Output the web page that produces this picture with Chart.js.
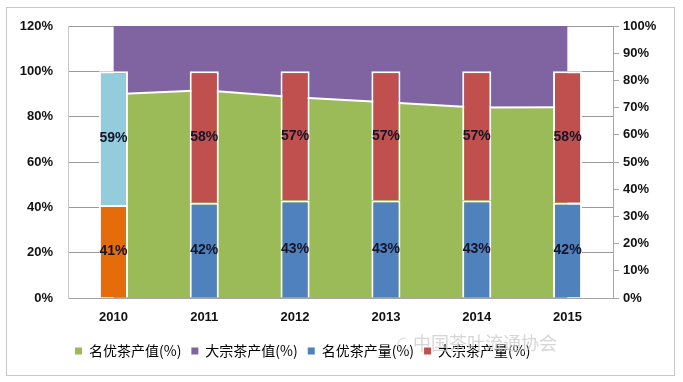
<!DOCTYPE html>
<html>
<head>
<meta charset="utf-8">
<script src="https://cdn.jsdelivr.net/npm/chart.js@4/dist/chart.umd.min.js"></script>
<style>
html,body{margin:0;padding:0;background:#fff;}
#wrap{width:683px;height:382px;position:relative;}
</style>
</head>
<body>
<div id="wrap"><canvas id="c" width="683" height="382"></canvas></div>
<script>
const years = ['2010','2011','2012','2013','2014','2015'];
const famousValue = [74.9, 76.4, 73.8, 72.0, 70.0, 70.1];      // 名优茶产值(%) right axis
const bulkValue = [25.1, 23.6, 26.2, 28.0, 30.0, 29.9];        // 大宗茶产值(%) right axis
const famousOutput = [41, 42, 43, 43, 43, 42];                // 名优茶产量(%)
const bulkOutput = [59, 58, 57, 57, 57, 58];                  // 大宗茶产量(%)
const leftTicks = [0, 20, 40, 60, 80, 100, 120];
const rightTicks = [0, 10, 20, 30, 40, 50, 60, 70, 80, 90, 100];
const seriesNames = ['名优茶产值(%)', '大宗茶产值(%)', '名优茶产量(%)', '大宗茶产量(%)'];

const C = {green:'#9BBB59', purple:'#8064A2', blue:'#4F81BD', red:'#C0504D', orange:'#E46C0A', lightBlue:'#93CDDD'};
const famousBarColors = famousOutput.map((v,i)=> i===0 ? C.orange : C.blue);
const bulkBarColors = bulkOutput.map((v,i)=> i===0 ? C.lightBlue : C.red);
const legendColors = [C.green, C.purple, C.blue, C.red];

const labelPlugin = {
  id:'barLabels',
  afterDatasetsDraw(chart){
    const ctx = chart.ctx;
    ctx.save();
    ctx.font = 'bold 14px "Liberation Sans", Arial, sans-serif';
    ctx.fillStyle = '#141428';
    ctx.textAlign = 'center';
    ctx.textBaseline = 'middle';
    [2,3].forEach(di=>{
      const meta = chart.getDatasetMeta(di);
      const data = chart.data.datasets[di].data;
      meta.data.forEach((el,i)=>{
        ctx.fillText(data[i] + '%', el.x, (el.y + el.base)/2);
      });
    });
    ctx.restore();
  }
};

const framePlugin = {
  id:'frame',
  afterLayout(chart){
    chart.legend.left += 55;
  },
  afterDraw(chart){
    const ctx = chart.ctx;
    ctx.save();
    ctx.strokeStyle = '#c8c8c8';
    ctx.lineWidth = 1;
    ctx.strokeRect(6.5, 7.5, 668, 368);
    ctx.font = '18px "Noto Sans CJK SC", sans-serif';
    ctx.fillStyle = 'rgba(200,200,200,0.75)';
    ctx.textBaseline = 'middle';
    ctx.fillText('中国茶叶流通协会', 413, 343);
    ctx.strokeStyle = 'rgba(200,200,200,0.75)';
    ctx.beginPath();
    ctx.arc(404, 344, 6, 0.2*Math.PI, 1.6*Math.PI);
    ctx.stroke();
    ctx.restore();
  }
};

new Chart(document.getElementById('c'), {
  data:{
    labels: years,
    datasets:[
      {type:'line', label:seriesNames[0], data:famousValue, yAxisID:'y2', stack:'value',
       backgroundColor:C.green, borderColor:'#ffffff', borderWidth:2, fill:'origin',
       pointRadius:0, tension:0, order:1},
      {type:'line', label:seriesNames[1], data:bulkValue, yAxisID:'y2', stack:'value',
       backgroundColor:C.purple, borderColor:C.purple, borderWidth:0, fill:'-1',
       pointRadius:0, tension:0, order:1},
      {type:'bar', label:seriesNames[2], data:famousOutput, yAxisID:'y', stack:'output',
       backgroundColor:famousBarColors, borderColor:'#ffffff', borderWidth:2, borderSkipped:'start',
       categoryPercentage:1, barPercentage:0.32, order:0},
      {type:'bar', label:seriesNames[3], data:bulkOutput, yAxisID:'y', stack:'output',
       backgroundColor:bulkBarColors, borderColor:'#ffffff', borderWidth:2, borderSkipped:'start',
       categoryPercentage:1, barPercentage:0.32, order:0}
    ]
  },
  options:{
    responsive:false,
    animation:false,
    events:[],
    layout:{padding:{left:10, right:10, top:26, bottom:14}},
    plugins:{
      tooltip:{enabled:false},
      legend:{
        position:'bottom',
        align:'start',
        labels:{
          boxWidth:7, boxHeight:7, padding:10,
          font:{family:'"Noto Sans CJK SC", sans-serif', size:14},
          color:'#111',
          generateLabels(chart){
            return seriesNames.map((n,i)=>({text:n, fillStyle:legendColors[i], strokeStyle:legendColors[i], lineWidth:0, datasetIndex:i, hidden:false}));
          }
        }
      }
    },
    scales:{
      x:{
        stacked:true,
        offset:true,
        grid:{display:false, drawTicks:false},
        border:{display:true, color:'#a6a6a6', width:1},
        ticks:{padding:12, color:'#111', font:{family:'"Liberation Sans", Arial, sans-serif', size:13, weight:'bold'}},
        afterFit(s){ s.height = 36; }
      },
      y:{
        position:'left',
        stacked:true,
        min:0, max:120,
        afterBuildTicks(s){ s.ticks = leftTicks.map(v=>({value:v})); },
        grid:{color:'#9a9a9a', drawTicks:false, lineWidth:1},
        border:{display:true, color:'#c8c8c8'},
        ticks:{padding:15, color:'#111', callback:v=>v+'%', font:{family:'"Liberation Sans", Arial, sans-serif', size:13, weight:'bold'}},
        afterFit(s){ s.width = 58; }
      },
      y2:{
        position:'right',
        stacked:true,
        min:0, max:100,
        afterBuildTicks(s){ s.ticks = rightTicks.map(v=>({value:v})); },
        grid:{drawOnChartArea:false, color:'#a6a6a6', tickLength:6},
        border:{display:true, color:'#a6a6a6'},
        ticks:{padding:4, color:'#111', callback:v=>v+'%', font:{family:'"Liberation Sans", Arial, sans-serif', size:13, weight:'bold'}},
        afterFit(s){ s.width = 60; }
      }
    }
  },
  plugins:[labelPlugin, framePlugin]
});
</script>
</body>
</html>
